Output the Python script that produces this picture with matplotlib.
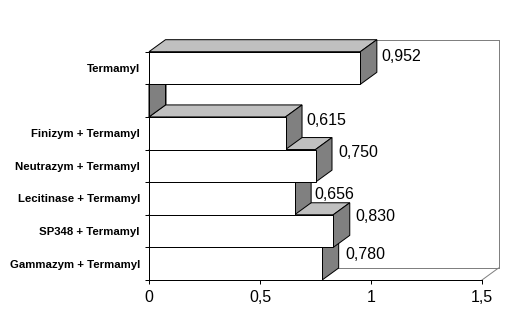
import matplotlib
matplotlib.use("Agg")
import matplotlib.pyplot as plt
from matplotlib.patches import Polygon

# datos (de arriba hacia abajo)
categorias = ["Termamyl", "", "Finizym + Termamyl", "Neutrazym + Termamyl",
              "Lecitinase + Termamyl", "SP348 + Termamyl", "Gammazym + Termamyl"]
valores = [0.952, 0.0, 0.615, 0.750, 0.656, 0.830, 0.780]
etiquetas = ["0,952", "", "0,615", "0,750", "0,656", "0,830", "0,780"]
xticks = [0, 0.5, 1, 1.5]
xtick_labels = ["0", "0,5", "1", "1,5"]

# ajuste vertical de las etiquetas de valor (px bajo el borde superior)
desplaz_y = [5, 0, 4, 3, 12, 2, 7]
desplaz_x = [5, 0, 4, 6, 3, 6, 7]

W, H = 511, 319
fig = plt.figure(figsize=(W / 100, H / 100), dpi=100)
ax = fig.add_axes([149 / W, (H - 280) / H, 333 / W, 228.3 / H])

n = len(categorias)
xmax = 1.5
ax.set_xlim(0, xmax)
ax.set_ylim(0, n)

# profundidad del efecto 3D en unidades de datos
dx = xmax / 333 * 16.5
dy = n / 228.3 * 12

gris = "#808080"
lw = 0.72

# pared del fondo y suelo
pared = dict(color=gris, lw=lw, clip_on=False, zorder=1)
ax.plot([dx, xmax + dx], [n + dy, n + dy], **pared)
ax.plot([xmax + dx, xmax + dx], [n + dy, dy], **pared)
ax.plot([dx, xmax + dx], [dy, dy], **pared)
ax.plot([dx, dx], [dy, n + dy], **pared)
ax.plot([xmax, xmax + dx], [0, dy], **pared)

# barras, de abajo hacia arriba
z = 2
for idx in range(n - 1, -1, -1):
    v = valores[idx]
    i = n - 1 - idx
    arriba = Polygon([(0, i + 1), (v, i + 1), (v + dx, i + 1 + dy), (dx, i + 1 + dy)],
                     closed=True, fc="#c0c0c0", ec="black", lw=lw, clip_on=False, zorder=z)
    lado = Polygon([(v, i), (v + dx, i + dy), (v + dx, i + 1 + dy), (v, i + 1)],
                   closed=True, fc=gris, ec="black", lw=lw, clip_on=False, zorder=z)
    frente = Polygon([(0, i), (v, i), (v, i + 1), (0, i + 1)],
                     closed=True, fc="white", ec="black", lw=lw, clip_on=False, zorder=z + 1)
    for p in (arriba, lado, frente):
        ax.add_patch(p)
    z += 2
    if etiquetas[idx]:
        ax.annotate(etiquetas[idx], xy=(v + dx, i + 1),
                    xytext=(desplaz_x[idx] * 0.72, -desplaz_y[idx] * 0.72),
                    textcoords="offset points", ha="left", va="center",
                    fontsize=11.5, family="Liberation Sans", zorder=50,
                    annotation_clip=False)

# ejes
for s in ("top", "right"):
    ax.spines[s].set_visible(False)
for s in ("left", "bottom"):
    ax.spines[s].set_linewidth(lw)
    ax.spines[s].set_zorder(40)

ax.set_xticks(xticks)
ax.set_xticklabels(xtick_labels, fontsize=11.5, family="Liberation Sans")
ax.tick_params(axis="x", direction="out", length=3, width=lw, pad=4)

ax.set_yticks(range(n + 1))
ax.set_yticklabels([])
ax.set_yticks([k + 0.5 for k in range(n)], minor=True)
ax.set_yticklabels(categorias[::-1], minor=True, fontsize=8.2,
                   family="Liberation Sans", fontweight="bold")
ax.tick_params(axis="y", which="major", direction="out", length=3, width=lw)
ax.tick_params(axis="y", which="minor", length=0, pad=6.5)

fig.savefig("out.png", dpi=100)
